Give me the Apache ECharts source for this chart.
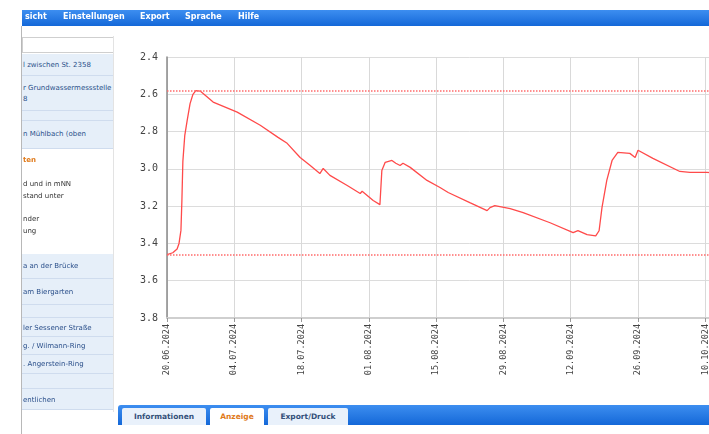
<!DOCTYPE html>
<html><head><meta charset="utf-8">
<script src="https://cdn.jsdelivr.net/npm/echarts@6/dist/echarts.min.js"></script>
<style>
html,body{margin:0;padding:0;width:709px;height:434px;overflow:hidden;background:#fff;font-family:"DejaVu Sans",Verdana,sans-serif;}
.abs{position:absolute;}
#menu{left:22px;top:10px;width:700px;height:16px;background:linear-gradient(#3d8ef0,#1468d8);}
#menu span{position:absolute;top:2px;color:#fff;font-size:8px;font-weight:bold;white-space:nowrap;}
#leftline{left:21px;top:26px;width:1px;height:408px;background:#b8b8b8;}
#side{left:22px;top:36px;width:91px;height:376px;overflow:hidden;}
.row{position:absolute;left:0;width:91px;background:#e6eff9;border-bottom:1px solid #cfdcee;font-size:7px;color:#2a4f8a;white-space:nowrap;overflow:hidden;}
.row div{position:absolute;left:1px;}
.plain{position:absolute;left:1px;font-size:7px;color:#333;white-space:nowrap;}
#chart{left:0;top:0;width:800px;height:400px;}
#tabs{left:118px;top:405px;width:600px;height:20px;background:linear-gradient(#3d8ef0,#1468d8);border-radius:3px 0 0 0;}
.tab{position:absolute;top:3px;height:17px;background:#e9f1fb;border-radius:2px 2px 0 0;font-size:7.5px;font-weight:bold;color:#34507a;text-align:center;line-height:17px;}
</style></head>
<body>
<div id="chart" class="abs"></div>
<div id="leftline" class="abs"></div>
<div id="menu" class="abs">
  <span style="left:3px">sicht</span>
  <span style="left:41px">Einstellungen</span>
  <span style="left:118px">Export</span>
  <span style="left:163px">Sprache</span>
  <span style="left:216px">Hilfe</span>
</div>
<div class="abs" style="left:22px;top:37px;width:90px;height:14px;border:1px solid #cfcfcf;background:#fff"></div>
<div id="side" class="abs">
  <div class="row" style="top:18px;height:21px"><div style="top:7px">l zwischen St. 2358</div></div>
  <div class="row" style="top:40px;height:34px"><div style="top:8px">r Grundwassermessstelle</div><div style="top:19px">8</div></div>
  <div class="row" style="top:75px;height:9px"></div>
  <div class="row" style="top:85px;height:27px"><div style="top:9px">n Mühlbach (oben</div></div>
  <div class="plain" style="top:120px;color:#e07a1a;font-weight:bold">ten</div>
  <div class="plain" style="top:144px">d und in mNN</div>
  <div class="plain" style="top:156px">stand unter</div>
  <div class="plain" style="top:179px">nder</div>
  <div class="plain" style="top:191px">ung</div>
  <div class="row" style="top:218px;height:24px"><div style="top:8px">a an der Brücke</div></div>
  <div class="row" style="top:243px;height:25px"><div style="top:9px">am Biergarten</div></div>
  <div class="row" style="top:269px;height:12px"></div>
  <div class="row" style="top:282px;height:18px"><div style="top:6px">ler Sessener Straße</div></div>
  <div class="row" style="top:301px;height:17px"><div style="top:5px">g. / Wilmann-Ring</div></div>
  <div class="row" style="top:319px;height:18px"><div style="top:5px">. Angerstein-Ring</div></div>
  <div class="row" style="top:338px;height:14px"></div>
  <div class="row" style="top:353px;height:20px"><div style="top:7px">entlichen</div></div>
</div>
<div class="abs" style="left:113px;top:36px;width:1px;height:376px;background:#e3e3e3"></div>
<div id="tabs" class="abs">
  <div class="tab" style="left:4px;width:84px">Informationen</div>
  <div class="tab" style="left:92px;width:54px;background:#fff;color:#e07a1a">Anzeige</div>
  <div class="tab" style="left:150px;width:80px">Export/Druck</div>
</div>
<script>
const dateLabels = ['20.06.2024','04.07.2024','18.07.2024','01.08.2024','15.08.2024','29.08.2024','12.09.2024','26.09.2024','10.10.2024','24.10.2024'];
const days = [0,1.2,2.1,2.5,2.9,3.1,3.3,3.7,4.2,4.8,5.4,6.0,6.9,9.6,14.6,19.4,23.1,25.0,27.7,29.8,31.8,32.5,33.9,37.5,40.2,40.6,42.9,44.3,44.5,44.7,45.4,46.8,47.6,48.5,49.1,50.6,54.1,56.8,58.5,63.0,66.6,67.2,68.2,71.4,74.1,79.7,84.5,85.5,87.4,89.2,89.9,90.5,91.5,92.6,93.8,96.3,97.4,98.0,101.1,106.7,108.8,112.3,114.0];
const levels = [3.46,3.45,3.43,3.40,3.33,3.17,2.96,2.82,2.74,2.65,2.60,2.58,2.583,2.642,2.696,2.766,2.831,2.863,2.939,2.982,3.025,2.998,3.035,3.089,3.132,3.12,3.17,3.192,3.197,3.009,2.965,2.955,2.97,2.982,2.97,2.992,3.062,3.10,3.127,3.181,3.224,3.208,3.197,3.213,3.235,3.289,3.342,3.331,3.353,3.359,3.332,3.208,3.062,2.955,2.912,2.917,2.939,2.90,2.944,3.014,3.019,3.019,3.022];
const thresholds = [2.58, 3.465];
const yMin = 2.4, yMax = 3.8, yStep = 0.2;

const chart = echarts.init(document.getElementById('chart'), null, {renderer:'canvas'});
chart.setOption({
  animation:false,
  backgroundColor:'transparent',
  grid:{left:167, top:57, width:605.6, height:261, containLabel:false},
  xAxis:{
    type:'value', min:0, max:126, interval:14,
    axisLine:{show:true, lineStyle:{color:'#cfcfcf', width:2}},
    axisTick:{show:true, length:4, lineStyle:{color:'#999'}},
    splitLine:{show:true, lineStyle:{color:'#d9d9d9'}},
    axisLabel:{rotate:90, fontSize:8.5, color:'#444', fontFamily:'DejaVu Sans Mono', margin:6,
      formatter:v=>dateLabels[Math.round(v/14)]}
  },
  yAxis:{
    type:'value', inverse:true, min:yMin, max:yMax, interval:yStep,
    axisLine:{show:true, lineStyle:{color:'#8a8a8a', width:1.5}},
    axisTick:{show:false},
    splitLine:{show:true, lineStyle:{color:'#dcdcdc'}},
    axisLabel:{fontSize:10, color:'#444', fontFamily:'DejaVu Sans Mono', margin:9,
      formatter:v=>v.toFixed(1)}
  },
  series:[{
    type:'line', showSymbol:false, smooth:false,
    lineStyle:{color:'#ff4a4a', width:1.3},
    data:days.map((d,i)=>[d, levels[i]]),
    markLine:{silent:true, symbol:'none', label:{show:false},
      lineStyle:{type:'dotted', color:'#ff6b6b', width:1.5},
      data:thresholds.map(v=>({yAxis:v}))}
  }]
});
</script>
</body></html>
